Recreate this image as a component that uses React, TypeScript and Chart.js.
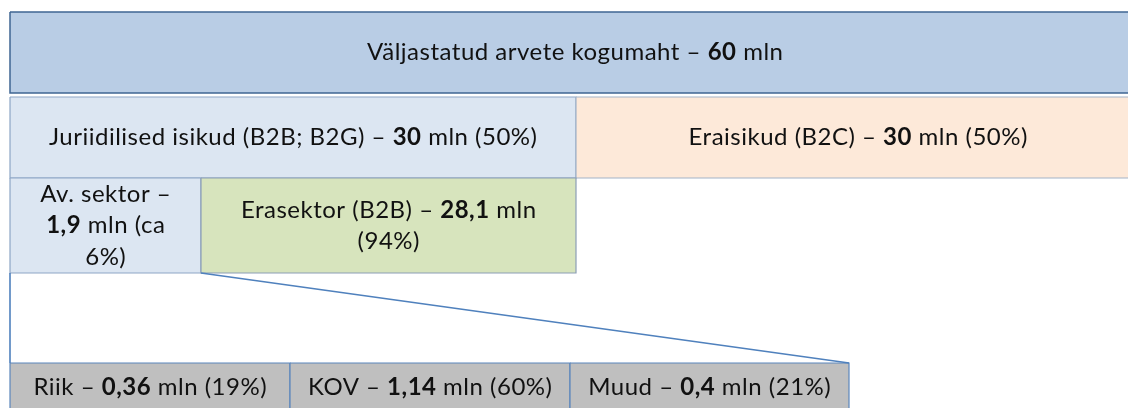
import React, { useEffect, useRef } from 'react';
import { Chart, registerables } from 'chart.js';

Chart.register(...registerables);

// ---- Data -------------------------------------------------------------
// Node names (hierarchy of issued invoices)
const nodeIds = ['total', 'legal', 'private', 'public', 'business', 'state', 'local', 'other'];
// Values in millions of invoices
const nodeValues = [60, 30, 30, 1.9, 28.1, 0.36, 1.14, 0.4];
// Shares in percent of the parent node
const nodeShares = [100, 50, 50, 6, 94, 19, 60, 21];
// Label templates ({v} = bold value, {p} = share, \n = line break)
const nodeLabels = [
  'Väljastatud arvete kogumaht – {v} mln',
  'Juriidilised isikud (B2B; B2G) – {v} mln ({p}%)',
  'Eraisikud (B2C) – {v} mln ({p}%)',
  'Av. sektor –\n{v} mln (ca\n{p}%)',
  'Erasektor (B2B) – {v} mln\n({p}%)',
  'Riik – {v} mln ({p}%)',
  'KOV – {v} mln ({p}%)',
  'Muud – {v} mln ({p}%)',
];

// ---- Layout (diagram units on the x/y linear scales) -------------------
const boxX0 = [10, 10, 576, 10, 201, 10, 290, 570];
const boxX1 = [1140, 576, 1140, 201, 576, 290, 570, 849];
const boxY0 = [12, 97, 97, 178, 178, 363, 363, 363];
const boxY1 = [93, 178, 178, 273, 273, 412, 412, 412];
const boxFill = ['#B9CDE5', '#DCE6F2', '#FDE9D9', '#DCE6F2', '#D7E4BD', '#BFBFBF', '#BFBFBF', '#BFBFBF'];
const boxStroke = ['#3F6592', '#8DA6C5', '#A3B3C8', '#8DA6C5', '#8C9EB6', '#5B86BC', '#5B86BC', '#5B86BC'];
// Connector lines (from public sector box to its breakdown)
const connX0 = [10, 201];
const connY0 = [273, 273];
const connX1 = [10, 849];
const connY1 = [363, 363];

const FONT_FAMILY = 'Lato, "Noto Sans", sans-serif';
const FONT_SIZE = 24;
const LETTER_SPACING = 0.5;
const LINE_HEIGHT = 31.5;

function fmt(v: number) {
  return String(v).replace('.', ',');
}

type Seg = { t: string; b: boolean };

function buildLines(i: number): Seg[][] {
  const raw = nodeLabels[i].replace('{p}', String(nodeShares[i]));
  return raw.split('\n').map((line) => {
    const parts = line.split('{v}');
    const segs: Seg[] = [];
    parts.forEach((p, k) => {
      if (p) segs.push({ t: p, b: false });
      if (k < parts.length - 1) segs.push({ t: fmt(nodeValues[i]), b: true });
    });
    return segs;
  });
}

const labelPlugin = {
  id: 'boxLabels',
  afterDatasetsDraw(chart: any) {
    const { ctx, scales } = chart;
    const xs = scales.x;
    const ys = scales.y;
    ctx.save();
    ctx.fillStyle = '#111111';
    ctx.textBaseline = 'alphabetic';
    ctx.textAlign = 'left';
    try {
      (ctx as any).letterSpacing = `${LETTER_SPACING}px`;
    } catch (e) {
      /* ignore */
    }
    nodeIds.forEach((_, i) => {
      const cx = (xs.getPixelForValue(boxX0[i]) + xs.getPixelForValue(boxX1[i])) / 2;
      const y0 = ys.getPixelForValue(boxY0[i]);
      const y1 = ys.getPixelForValue(boxY1[i]);
      const cy = (y0 + y1) / 2;
      const lines = buildLines(i);
      const n = lines.length;
      lines.forEach((segs, li) => {
        let w = 0;
        segs.forEach((s) => {
          ctx.font = `${s.b ? 'bold ' : ''}${FONT_SIZE}px ${FONT_FAMILY}`;
          w += ctx.measureText(s.t).width;
        });
        w -= LETTER_SPACING;
        let x = cx - w / 2;
        const baseline = cy + (li - (n - 1) / 2) * LINE_HEIGHT + FONT_SIZE * 0.33;
        segs.forEach((s) => {
          ctx.font = `${s.b ? 'bold ' : ''}${FONT_SIZE}px ${FONT_FAMILY}`;
          ctx.fillText(s.t, x, baseline);
          x += ctx.measureText(s.t).width;
        });
      });
    });
    ctx.restore();
  },
};

export default function App() {
  const ref = useRef<HTMLCanvasElement | null>(null);

  useEffect(() => {
    if (!ref.current) return;
    const boxSets = nodeIds.map((id, i) => ({
      label: id,
      data: [
        { x: boxX0[i], y: boxY0[i] },
        { x: boxX1[i], y: boxY0[i] },
        { x: boxX1[i], y: boxY1[i] },
        { x: boxX0[i], y: boxY1[i] },
        { x: boxX0[i], y: boxY0[i] },
      ],
      backgroundColor: boxFill[i],
      borderColor: boxStroke[i],
      borderWidth: i === 0 ? 1.5 : 1.2,
      fill: 'shape',
      pointRadius: 0,
      pointHoverRadius: 0,
      tension: 0,
      borderJoinStyle: 'miter',
      order: 10 - i,
    }));
    const connSets = connX0.map((_, i) => ({
      label: 'conn' + i,
      data: [
        { x: connX0[i], y: connY0[i] },
        { x: connX1[i], y: connY1[i] },
      ],
      borderColor: '#4F81BD',
      borderWidth: 1.6,
      fill: false,
      pointRadius: 0,
      pointHoverRadius: 0,
      tension: 0,
      order: 0,
    }));

    const chart = new Chart(ref.current, {
      type: 'line',
      data: { datasets: [...boxSets, ...connSets] as any },
      options: {
        animation: false,
        responsive: false,
        maintainAspectRatio: false,
        layout: { padding: 0 },
        events: [],
        plugins: {
          legend: { display: false },
          tooltip: { enabled: false },
        },
        scales: {
          x: { type: 'linear', min: 0, max: 1128, display: false },
          y: { type: 'linear', min: 0, max: 408, reverse: true, display: false },
        },
      },
      plugins: [labelPlugin],
    });
    return () => chart.destroy();
  }, []);

  return (
    <div style={{ position: 'absolute', left: 0, top: 0, width: 1128, height: 408, background: '#ffffff' }}>
      <canvas ref={ref} width={1128} height={408} style={{ display: 'block' }} />
    </div>
  );
}
